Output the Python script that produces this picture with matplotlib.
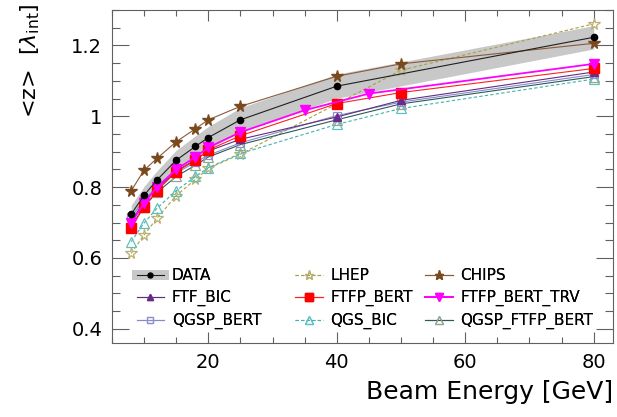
import matplotlib
matplotlib.use("Agg")
import matplotlib.pyplot as plt
from matplotlib.ticker import MultipleLocator
from matplotlib.lines import Line2D

# ---- data ----
energy = [8, 10, 12, 15, 18, 20, 25, 40, 50, 80]
data_E = [8, 10, 12, 15, 18, 20, 25, 40, 80]
data = [0.724, 0.777, 0.820, 0.876, 0.915, 0.940, 0.990, 1.085, 1.223]
data_err = [0.025, 0.025, 0.026, 0.028, 0.030, 0.031, 0.034, 0.034, 0.033]
lhep_E = [8, 10, 12, 15, 18, 20, 25, 50, 80]
lhep = [0.613, 0.665, 0.712, 0.776, 0.822, 0.853, 0.893, 1.130, 1.261]
chips = [0.790, 0.848, 0.881, 0.928, 0.965, 0.990, 1.028, 1.113, 1.148, 1.206]
ftf_bic = [0.702, 0.760, 0.795, 0.845, 0.878, 0.902, 0.935, 0.998, 1.045, 1.125]
ftfp_bert = [0.684, 0.745, 0.790, 0.843, 0.876, 0.905, 0.945, 1.036, 1.067, 1.135]
trv_E = [8, 10, 12, 15, 18, 20, 25, 35, 45, 80]
ftfp_bert_trv = [0.700, 0.755, 0.800, 0.850, 0.885, 0.912, 0.955, 1.017, 1.064, 1.148]
qgsp_bert = [0.715, 0.765, 0.800, 0.840, 0.870, 0.890, 0.925, 1.002, 1.040, 1.118]
qgs_bic = [0.646, 0.699, 0.740, 0.790, 0.830, 0.855, 0.895, 0.977, 1.022, 1.105]
qgsp_ftfp_bert = [0.690, 0.745, 0.785, 0.830, 0.862, 0.885, 0.920, 0.990, 1.035, 1.112]

x_ticks = [20, 40, 60, 80]
y_ticks = [0.4, 0.6, 0.8, 1.0, 1.2]
y_ticklabels = ["0.4", "0.6", "0.8", "1", "1.2"]

plt.rcParams['font.family'] = ['DejaVu Sans']

fig = plt.figure(figsize=(6.17, 4.17), dpi=100)
ax = fig.add_axes([0.1815, 0.1775, 0.812, 0.7985])

lw = 0.8
# data band
lo = [d - e for d, e in zip(data, data_err)]
hi = [d + e for d, e in zip(data, data_err)]
ax.fill_between(data_E, lo, hi, color='#c8c8c8', lw=0, zorder=1)

h = {}
h['LHEP'], = ax.plot(lhep_E, lhep, ls=(0, (3, 2)), lw=lw, color='#a8a040', marker='*', ms=8.5,
                     mfc='none', mec='#b8b070', mew=0.9, zorder=3)
h['QGS_BIC'], = ax.plot(energy, qgs_bic, ls=(0, (3, 2)), lw=lw, color='#40b0b0', marker='^', ms=6.5,
                        mfc='none', mec='#60c0c0', mew=0.9, zorder=3)
h['QGSP_FTFP_BERT'], = ax.plot(energy, qgsp_ftfp_bert, ls='-', lw=lw, color='#305858', marker='^', ms=6.5,
                               mfc='none', mec='#90a890', mew=0.9, zorder=3)
h['QGSP_BERT'], = ax.plot(energy, qgsp_bert, ls='-', lw=lw, color='#8888cc', marker='s', ms=5.5,
                          mfc='none', mec='#9090d0', mew=0.9, zorder=3)
h['FTF_BIC'], = ax.plot(energy, ftf_bic, ls='-', lw=lw, color='#603080', marker='^', ms=5.5,
                        mfc='#6a2a8a', mec='#6a2a8a', zorder=4)
h['FTFP_BERT'], = ax.plot(energy, ftfp_bert, ls='-', lw=lw, color='#ff2020', marker='s', ms=6.5,
                          mfc='#ff0000', mec='#ff0000', zorder=5)
h['FTFP_BERT_TRV'], = ax.plot(trv_E, ftfp_bert_trv, ls='-', lw=1.3, color='#ff00ff', marker='v', ms=6.5,
                              mfc='#ff00ff', mec='#ff00ff', zorder=6)
h['CHIPS'], = ax.plot(energy, chips, ls='-', lw=lw, color='#8a5a3a', marker='*', ms=8.5,
                      mfc='#7a4a1e', mec='#7a4a1e', zorder=6)
h['DATA'], = ax.plot(data_E, data, ls='-', lw=lw, color='#202020', marker='o', ms=4.5,
                     mfc='black', mec='black', zorder=7)
band_proxy = Line2D([], [], color='#c8c8c8', lw=7)

ax.set_xlim(5, 83)
ax.set_ylim(0.36, 1.30)
ax.set_xticks(x_ticks)
ax.set_yticks(y_ticks)
ax.set_yticklabels(y_ticklabels)
ax.xaxis.set_minor_locator(MultipleLocator(5))
ax.yaxis.set_minor_locator(MultipleLocator(0.05))
ax.tick_params(which='both', direction='in', top=True, right=True, color='#606060', width=0.8)
ax.tick_params(axis='x', which='major', length=8, labelsize=14, pad=7)
ax.tick_params(axis='x', which='minor', length=4)
ax.tick_params(axis='y', which='major', length=12, labelsize=14, pad=7)
ax.tick_params(axis='y', which='minor', length=6)
for s in ax.spines.values():
    s.set_color('#606060')
    s.set_linewidth(0.8)

ax.set_xlabel('Beam Energy [GeV]', fontsize=18, loc='right')
ax.xaxis.set_label_coords(1.0, -0.11)
ax.set_ylabel(r'<z>  [$\lambda_{\rm int}$]', fontsize=16, loc='top')
ax.yaxis.set_label_coords(-0.14, 1.02)

cols = [
    (['DATA', 'FTF_BIC', 'QGSP_BERT'], 136.7),
    (['LHEP', 'FTFP_BERT', 'QGS_BIC'], 295),
    (['CHIPS', 'FTFP_BERT_TRV', 'QGSP_FTFP_BERT'], 425),
]
W, H = 617, 417
for names, xpx in cols:
    handles = []
    for n in names:
        if n == 'DATA':
            handles.append((band_proxy, h[n]))
        else:
            handles.append(h[n])
    leg = fig.legend(handles, names, loc='upper left',
                     bbox_to_anchor=(xpx / W, 1 - 268 / H), frameon=False,
                     fontsize=11, handlelength=1.8, handletextpad=0.5,
                     labelspacing=0.45, borderpad=0, borderaxespad=0,
                     markerscale=0.8)
    fig.add_artist(leg)

fig.savefig('out.png', dpi=100)
